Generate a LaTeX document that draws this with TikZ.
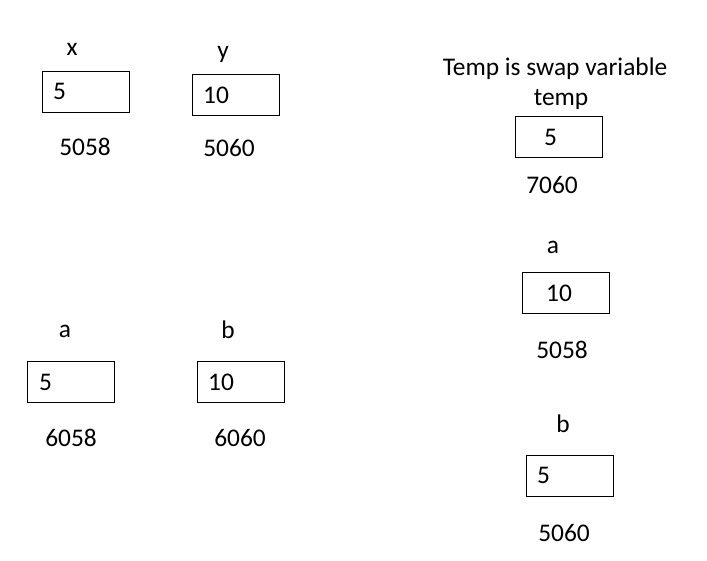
\documentclass[tikz,border=0pt]{standalone}
\usepackage{fontspec}
\setmainfont{Carlito}
\usetikzlibrary{positioning}

\begin{document}
\begin{tikzpicture}[x=1pt, y=-1pt, font=\fontsize{25.4}{30}\selectfont,
    cell/.style={draw, line width=1pt, minimum width=87pt, minimum height=41pt, inner sep=0pt},
    val/.style={anchor=west, inner sep=0pt},
    txt/.style={anchor=base, inner sep=0pt}]
    \useasboundingbox (0,0) rectangle (707,560);

    % Variables x and y
    \node[txt] (xname) at (72,55) {x};
    \node[cell] (xbox) at (85.5,91.5) {};
    \node[val] (xval) at (53,91.5) {5};
    \node[txt] (xaddr) at (85,155) {5058};

    \node[txt] (yname) at (223,58) {y};
    \node[cell] (ybox) at (235.5,95) {};
    \node[val] (yval) at (203,95) {10};
    \node[txt] (yaddr) at (229,156) {5060};

    % Variables a and b
    \node[txt] (aname) at (65,337) {a};
    \node[cell] (abox) at (71,382) {};
    \node[val] (aval) at (39,382) {5};
    \node[txt] (aaddr) at (71,446) {6058};

    \node[txt] (bname) at (228,338) {b};
    \node[cell] (bbox) at (240.5,382) {};
    \node[val] (bval) at (208,382) {10};
    \node[txt] (baddr) at (240,446) {6060};

    % Swap variable
    \node[txt] (note) at (555,75) {Temp is swap variable};
    \node[txt] (tname) at (561,105) {temp};
    \node[cell] (tbox) at (558.5,137) {};
    \node[val] (tval) at (544,137) {5};
    \node[txt] (taddr) at (552,193) {7060};

    % After the swap
    \node[txt] (raname) at (553,253) {a};
    \node[cell] (rabox) at (565.5,293) {};
    \node[val] (raval) at (546,293) {10};
    \node[txt] (raaddr) at (562,358) {5058};

    \node[txt] (rbname) at (563,432) {b};
    \node[cell] (rbbox) at (570,475.5) {};
    \node[val] (rbval) at (537,475.5) {5};
    \node[txt] (rbaddr) at (564,541) {5060};

\end{tikzpicture}
\end{document}
